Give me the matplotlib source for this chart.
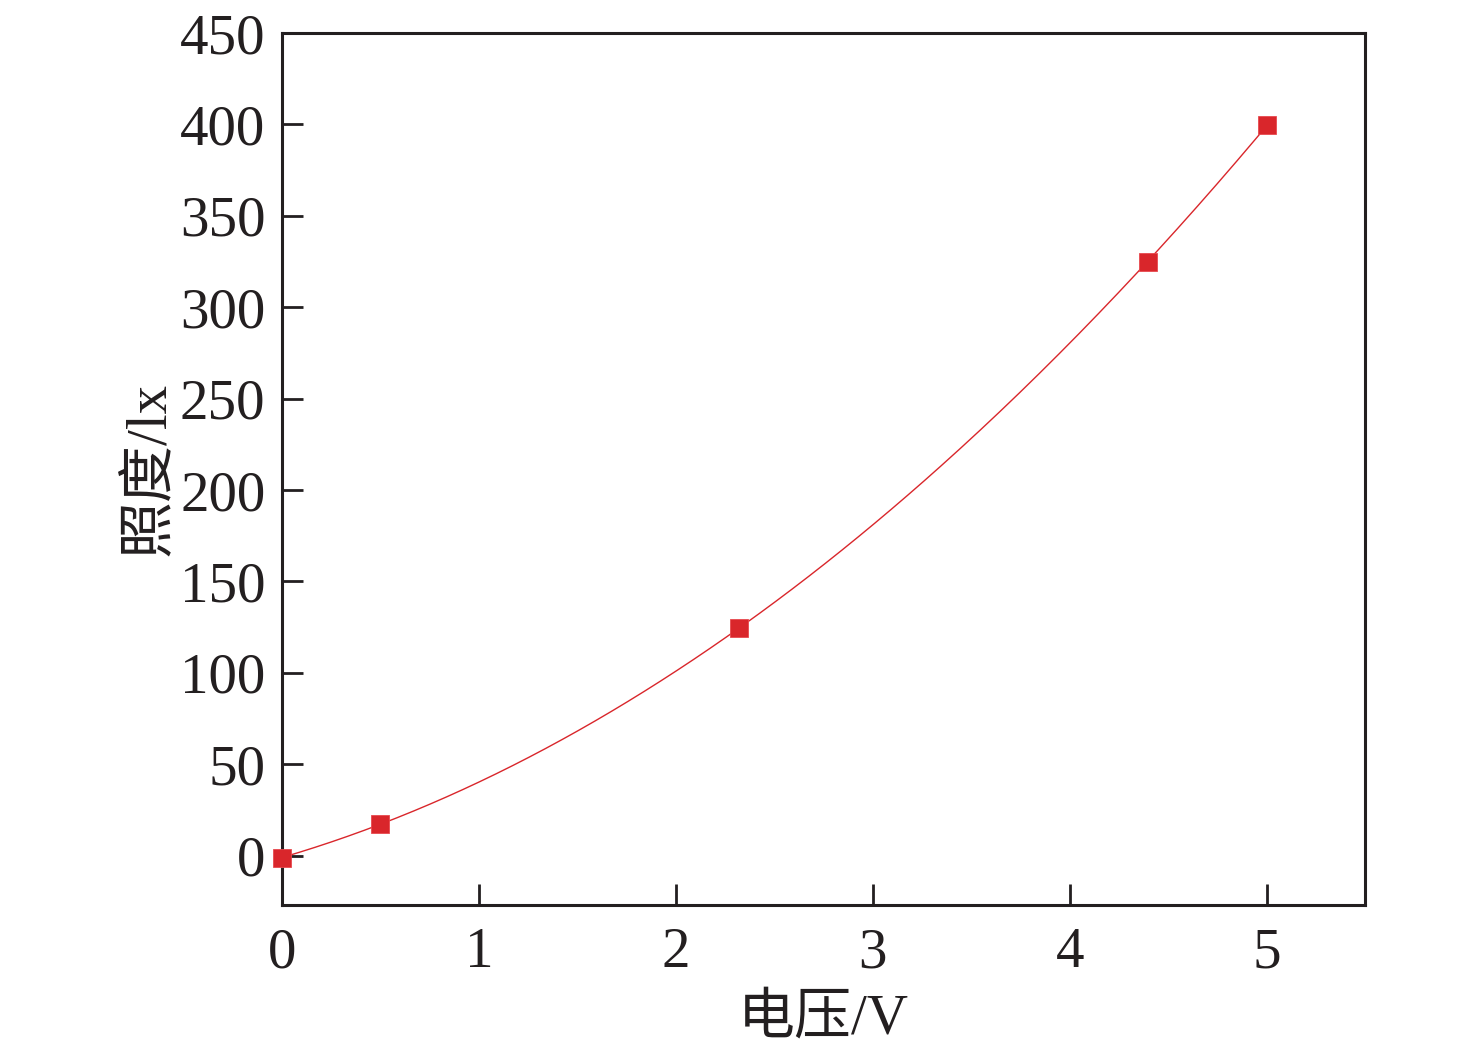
import numpy as np
import matplotlib
matplotlib.use("Agg")
import matplotlib.pyplot as plt

# measured points
voltage = [0.0, 0.5, 2.32, 4.4, 5.0]
illum = [-1.3, 17.5, 124.5, 325.0, 399.5]

x_ticks = [0, 1, 2, 3, 4, 5]
y_ticks = [0, 50, 100, 150, 200, 250, 300, 350, 400, 450]

plt.rcParams['font.family'] = ['Liberation Serif', 'Noto Sans CJK SC']
plt.rcParams['font.size'] = 41

fig = plt.figure(figsize=(14.76, 10.54), dpi=100)
ax = fig.add_axes([282/1476, 1-905/1054, (1365-282)/1476, (905-33)/1054])

# smooth curve: quadratic fit through the points
coef = np.polyfit(voltage, illum, 2)
xs = np.linspace(min(voltage), max(voltage), 300)
ax.plot(xs, np.polyval(coef, xs), color='#d9262b', lw=1.0, zorder=2)
ax.plot(voltage, illum, 's', color='#d9262b', ms=13.5, mec='#e8494e', mew=0.6,
        linestyle='none', zorder=3, clip_on=False)

ax.set_xlim(0, 5.5)
ax.set_ylim(-27, 450)
ax.set_xticks(x_ticks)
ax.set_yticks(y_ticks)
ax.tick_params(direction='in', length=15, width=2, colors='#231f20',
               top=False, right=False, pad=12)
ax.tick_params(axis='x', pad=16)
for s in ax.spines.values():
    s.set_linewidth(2.2)
    s.set_color('#231f20')

ax.set_xlabel('电压/V', color='#231f20', labelpad=10)
ax.set_ylabel('照度/lx', color='#231f20', labelpad=2)

fig.savefig('out.png', dpi=100)
